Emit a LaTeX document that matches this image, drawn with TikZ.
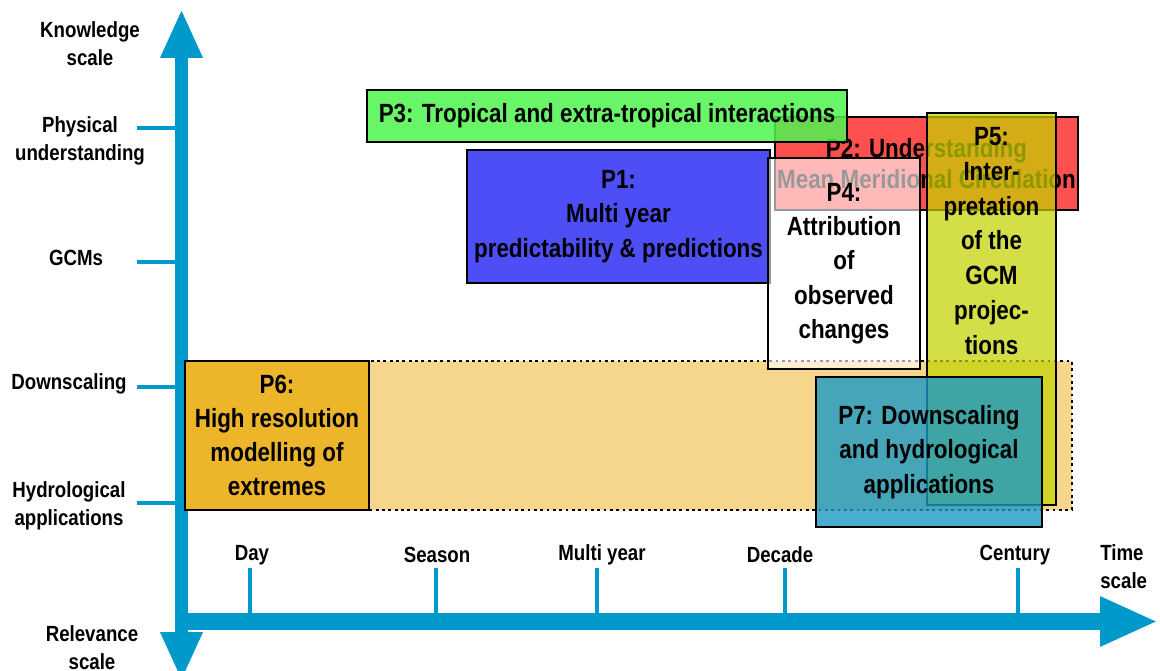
\documentclass[tikz,border=0pt]{standalone}
\usepackage{fontspec}
\setmainfont{Liberation Sans}[FakeStretch=0.85]
\usetikzlibrary{arrows.meta,positioning}
\definecolor{axisblue}{RGB}{0,153,204}
\definecolor{bandorange}{RGB}{246,214,140}
\definecolor{pgold}{RGB}{237,181,42}
\definecolor{pgreen}{RGB}{78,245,78}
\definecolor{pblue}{RGB}{78,78,246}
\definecolor{pred}{RGB}{255,80,80}
\definecolor{plime}{RGB}{196,210,0}
\definecolor{pteal}{RGB}{26,153,196}
\begin{document}
\begin{tikzpicture}[x=0.02cm, y=-0.02cm,
        axis/.style={draw=axisblue, fill=axisblue},
        tick/.style={draw=axisblue, line width=2pt},
        scalelabel/.style={font=\fontsize{12.5}{16}\selectfont\bfseries, align=center, inner sep=0pt},
        box/.style={draw=black, line width=1.6pt, inner sep=0pt, align=center, text opacity=1,
            font=\fontsize{15}{19.5}\selectfont\bfseries},
        boxtext/.style={inner sep=0pt, align=center, font=\fontsize{15}{19.9}\selectfont\bfseries}
    ]
        \useasboundingbox (0,0) rectangle (1160,671);

        % Axes
        \coordinate (ybottom) at (181.5,681);
        \coordinate (ytop) at (181.5,9);
        \coordinate (xstart) at (175,621.5);
        \coordinate (xend) at (1158,621.5);
        \draw[axis, line width=0.26cm, {Triangle[length=0.98cm,width=0.78cm]}-{Triangle[length=0.98cm,width=0.78cm]}] (ybottom) -- (ytop);
        \draw[axis, line width=0.34cm, -{Triangle[length=1.16cm,width=0.92cm]}] (xstart) -- (xend);

        % Knowledge scale
        \node[scalelabel] (knowledge) at (90,44) {Knowledge\\scale};
        \node[scalelabel] (physical) at (80,141) {Physical\\understanding};
        \node[scalelabel] (gcms) at (76,258) {GCMs};
        \node[scalelabel] (downscaling) at (69,384) {Downscaling};
        \node[scalelabel] (hydro) at (69,506) {Hydrological\\applications};
        \node[scalelabel] (relevance) at (92,648) {Relevance\\scale};
        \foreach \y in {128,262,387,503}
            \draw[tick] (137,\y) -- (176,\y);

        % Time scale
        \node[scalelabel, align=left, anchor=west] (timescale) at (1100,567) {Time\\scale};
        \foreach \x/\lx/\lbl in {250/252/Day, 436/437/Season, 597/602/Multi year, 785/780/Decade, 1018/1015/Century} {
            \node[scalelabel] (t\x) at (\lx,555) {\lbl};
            \draw[tick] (\x,568) -- (\x,614);
        }

        % Projects
        \node[box, fill=bandorange, dotted, line width=1.2pt, minimum width=17.72cm, minimum height=2.98cm] (band) at (629,435.5) {};
        \node[box, fill=pgold, minimum width=3.68cm, minimum height=2.98cm] (P6) at (277,435.5) {P6:\\High resolution\\modelling of\\extremes};
        \node[box, fill=pred, font=\fontsize{15}{18}\selectfont\bfseries, minimum width=6.06cm, minimum height=1.86cm] (P2) at (926.5,163.5) {P2: Understanding\\Mean Meridional Circulation};
        \node[box, fill=pgreen, fill opacity=0.85, minimum width=9.6cm, minimum height=1.04cm] (P3) at (607,116) {P3: Tropical and extra-tropical interactions};
        \node[box, fill=pblue, minimum width=6.06cm, minimum height=2.66cm] (P1) at (618.5,216.5) {P1:\\Multi year\\predictability \& predictions};
        \node[box, fill=white, fill opacity=0.6, minimum width=3.04cm, minimum height=4.22cm] (P4) at (844,263.5) {P4:\\Attribution\\of\\observed\\changes};
        \node[box, fill=plime, fill opacity=0.72, minimum width=2.58cm, minimum height=7.84cm] (P5box) at (991.5,309) {};
        \node[boxtext, below=0.3cm of P5box.north] (P5) {P5:\\Inter-\\pretation\\of the\\GCM\\projec-\\tions};
        \node[box, fill=pteal, fill opacity=0.8, minimum width=4.52cm, minimum height=3cm] (P7) at (929,452) {P7: Downscaling\\and hydrological\\applications};
    \end{tikzpicture}
\end{document}
